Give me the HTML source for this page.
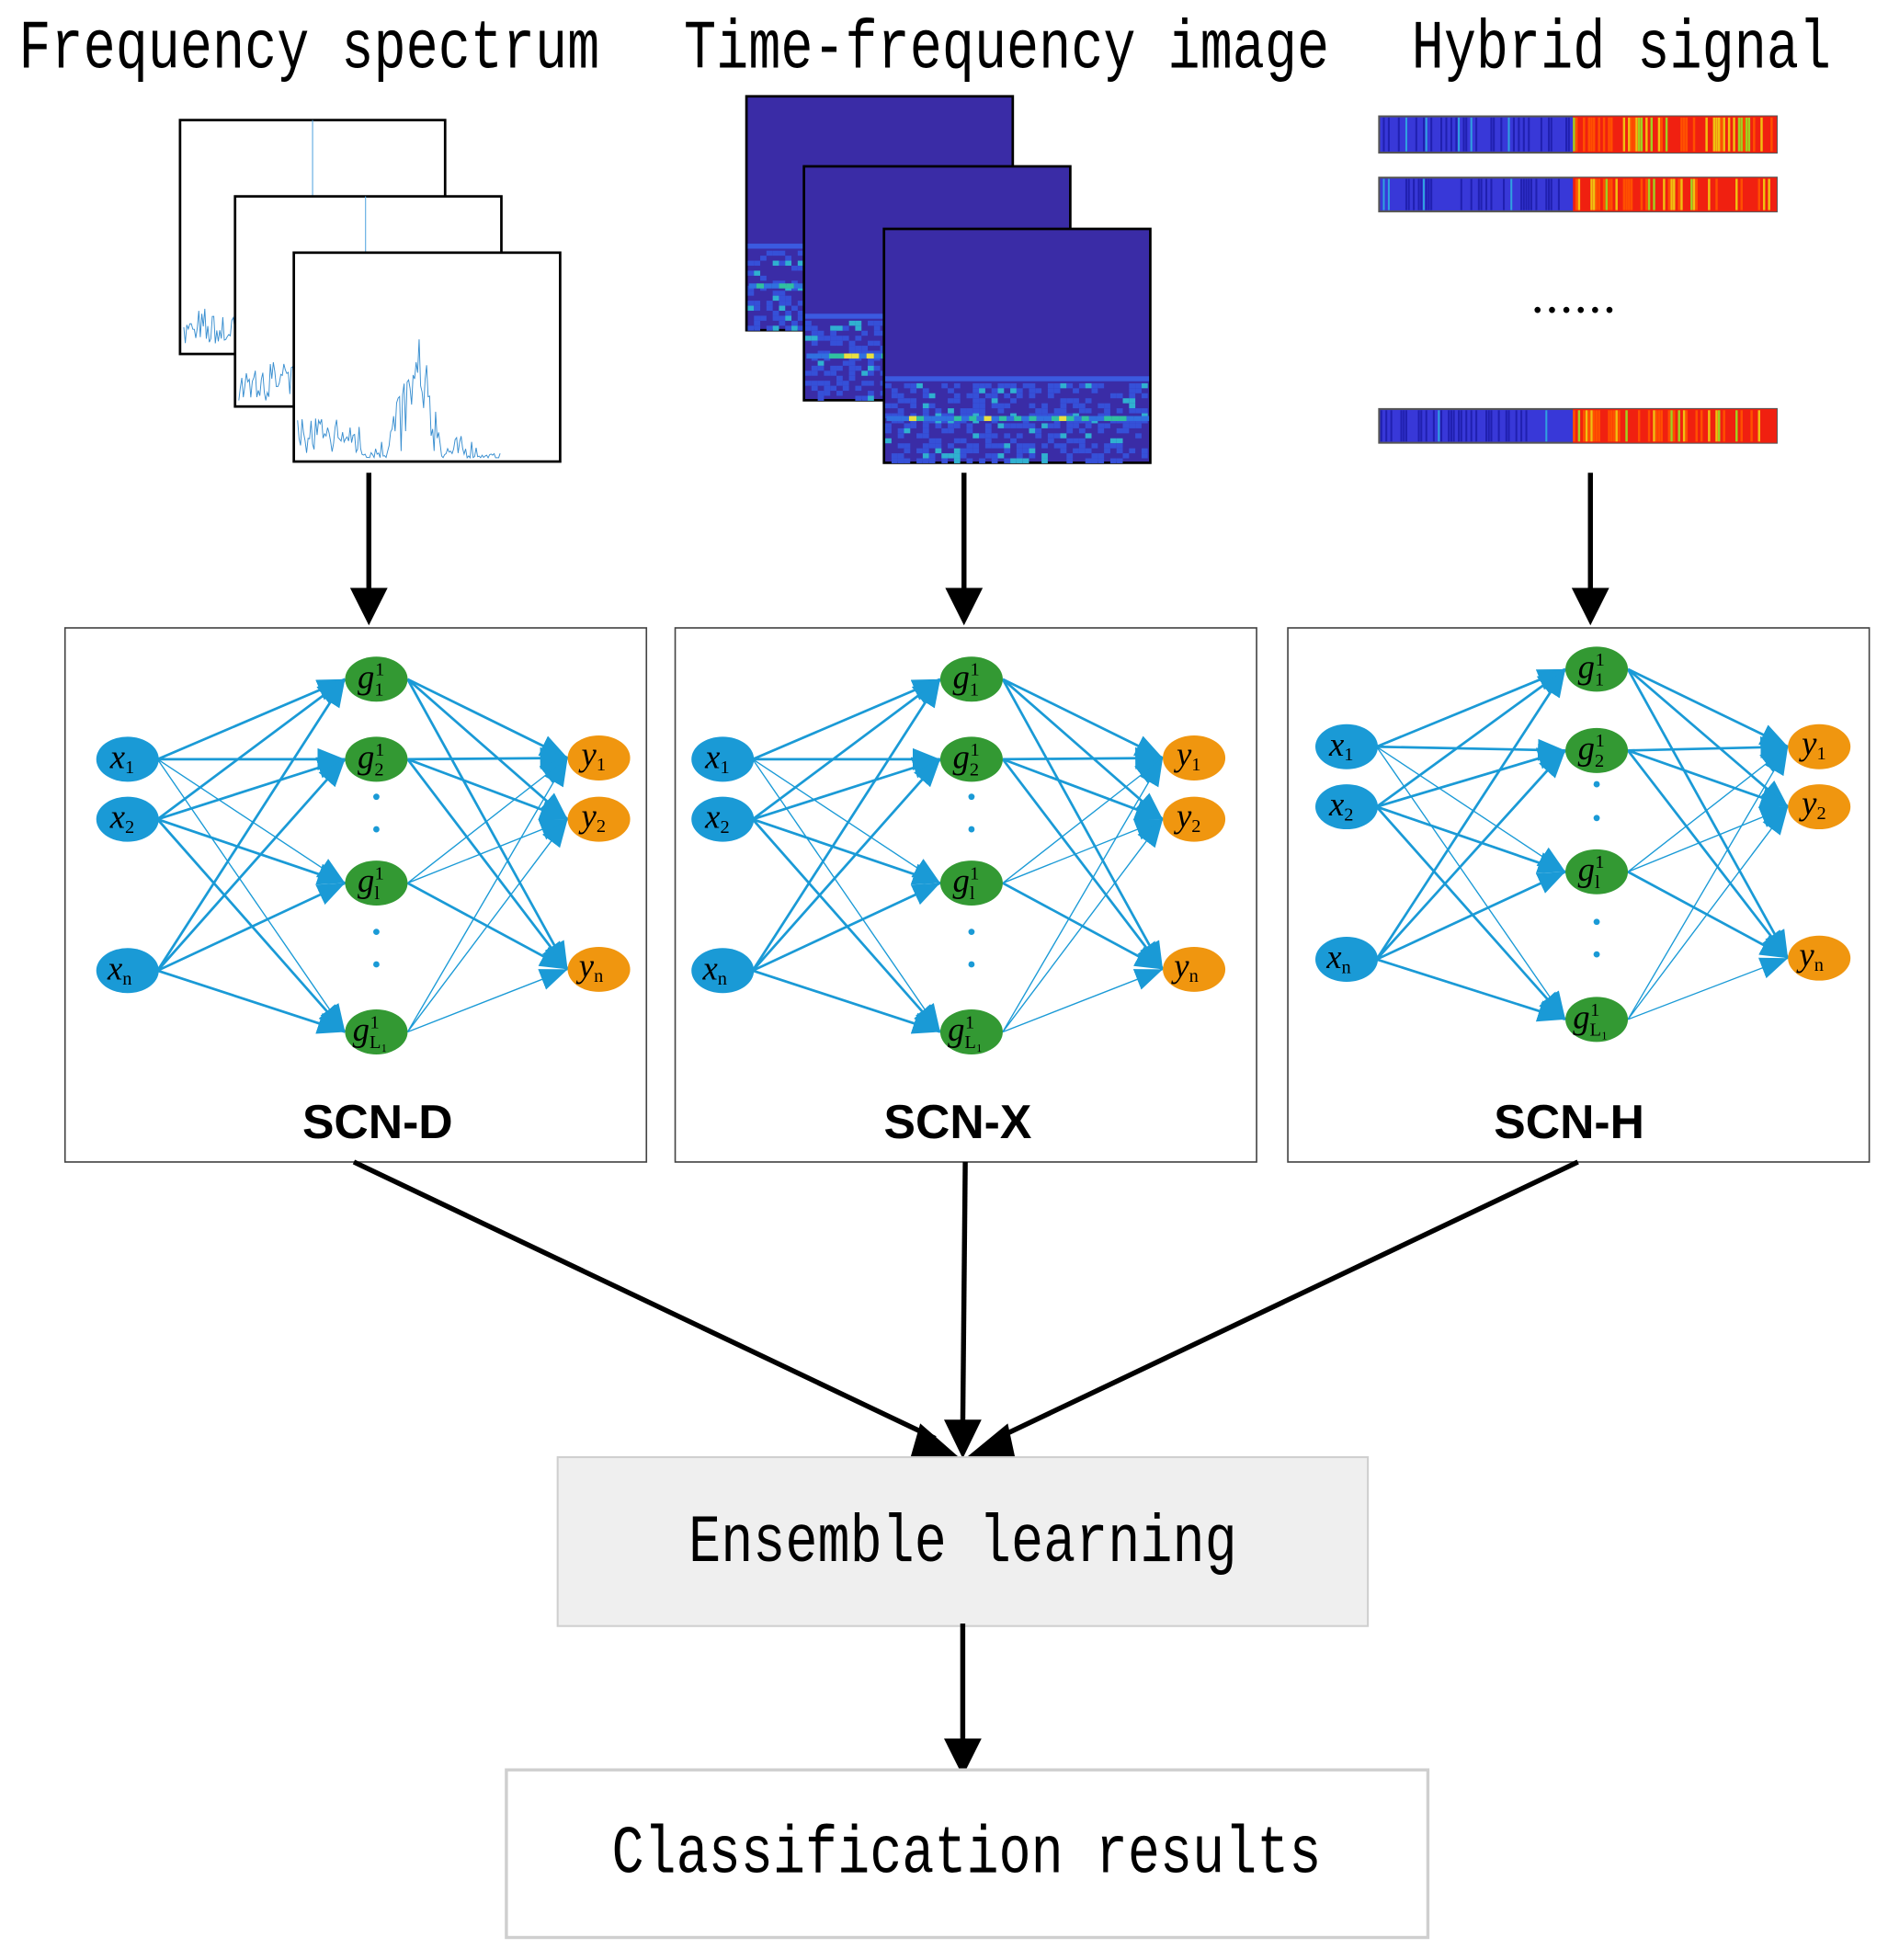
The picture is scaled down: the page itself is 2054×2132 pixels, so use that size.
<!DOCTYPE html>
<html><head><meta charset="utf-8"><style>
html,body{margin:0;padding:0;background:#fff}
svg{display:block}
.t{font-family:"Liberation Mono",monospace;font-size:43px;fill:#000}
.n{font-family:"Liberation Serif",serif;font-style:italic;font-size:27px;fill:#000}
.s{font-size:15px;font-style:normal}
.scn{font-family:"Liberation Sans",sans-serif;font-weight:bold;font-size:38px;fill:#000}
</style></head><body>
<svg id="sv" width="2054" height="2132" viewBox="0 0 1510 1567" preserveAspectRatio="none" xmlns="http://www.w3.org/2000/svg">
<defs>
<marker id="ac" viewBox="0 0 10 10" refX="10" refY="5" markerWidth="22" markerHeight="22" orient="auto" markerUnits="userSpaceOnUse"><path d="M0,1 L10,5 L0,9z" fill="#1a9ad6"/></marker>
</defs>
<g transform="translate(0,54) scale(1,1.28) translate(0,-54)">
<text class="t" x="15" y="54">Frequency spectrum</text>
<text class="t" x="547" y="54">Time-frequency image</text>
<text class="t" x="1129" y="54">Hybrid signal</text>
</g>
<g id="spec"></g>
<g id="tf"></g>
<g id="hyb"></g>
<text x="1226" y="250" font-family="Liberation Serif" font-size="30" font-weight="bold" letter-spacing="4">......</text>
<g stroke="#000" stroke-width="4">
<line x1="295" y1="378" x2="295" y2="470"/><line x1="771" y1="378" x2="771" y2="470"/><line x1="1272" y1="378" x2="1272" y2="470"/>
</g>
<g fill="#000">
<path d="M280,470 L310,470 L295,500z"/><path d="M756,470 L786,470 L771,500z"/><path d="M1257,470 L1287,470 L1272,500z"/>
</g>
<g fill="#fff" stroke="#444" stroke-width="1.2">
<rect x="52" y="502" width="465" height="427"/><rect x="540" y="502" width="465" height="427"/><rect x="1030" y="502" width="465" height="427"/>
</g>
<g id="nets"></g>
<text class="scn" x="302" y="910" text-anchor="middle">SCN-D</text>
<text class="scn" x="766" y="910" text-anchor="middle">SCN-X</text>
<text class="scn" x="1255" y="910" text-anchor="middle">SCN-H</text>
<g stroke="#000" stroke-width="4">
<line x1="283" y1="929" x2="748" y2="1150"/><line x1="772" y1="929" x2="770" y2="1140"/><line x1="1262" y1="929" x2="797" y2="1150"/>
</g>
<g fill="#000">
<path d="M736,1138 L768,1166 L728,1166z"/><path d="M755,1135 L785,1135 L770,1166z"/><path d="M806,1138 L772,1166 L812,1166z" />
</g>
<rect x="446" y="1165" width="648" height="135" fill="#efefef" stroke="#cfcfcf" stroke-width="1.5"/>
<text class="t" x="770" y="1248" text-anchor="middle" transform="translate(0,1248) scale(1,1.25) translate(0,-1248)">Ensemble learning</text>
<line x1="770" y1="1298" x2="770" y2="1392" stroke="#000" stroke-width="4"/>
<path d="M755,1390 L785,1390 L770,1420z" fill="#000"/>
<rect x="405" y="1415" width="737" height="134" fill="#fff" stroke="#cfcfcf" stroke-width="2.5"/>
<text class="t" x="773" y="1497" text-anchor="middle" transform="translate(0,1497) scale(1,1.25) translate(0,-1497)">Classification results</text>
</svg>
<script>
var NS="http://www.w3.org/2000/svg";
function el(t,a,p){var e=document.createElementNS(NS,t);for(var k in a)e.setAttribute(k,a[k]);(p||document.getElementById('sv')).appendChild(e);return e;}
var seed=7;function rnd(){seed=(seed*16807)%2147483647;return seed/2147483647;}
var sp=document.getElementById('spec');
[[144,96,356,283],[188,157,401,325],[235,202,448,369]].forEach(function(f,i){
 el('rect',{x:f[0],y:f[1],width:f[2]-f[0],height:f[3]-f[1],fill:'#fff',stroke:'#000','stroke-width':2},sp);
 var pts=[],w=f[2]-f[0],h=f[3]-f[1];
 for(var x=3;x<w*0.78;x+=1.2){var base=f[3]-3;var r=rnd();var amp=r*r*18;
  var c=x/w; if(c>0.35&&c<0.55)amp+=rnd()*h*0.6*(1-Math.abs(c-0.46)/0.12); if(c<0.25)amp+=rnd()*20;
  if(c>0.7)amp*=0.2; pts.push((f[0]+x).toFixed(1)+','+(base-amp).toFixed(1));}
 el('polyline',{points:pts.join(' '),fill:'none',stroke:'#3a8fd0','stroke-width':0.7},sp);
 if(i<2) el('line',{x1:f[0]+w*(i?0.49:0.5),y1:f[1],x2:f[0]+w*(i?0.49:0.5),y2:f[3]-40,stroke:'#5aa8e0','stroke-width':0.8},sp);
});
var tf=document.getElementById('tf');
[[597,77],[643,133],[707,183]].forEach(function(f,i){
 var w=213,h=187;
 el('rect',{x:f[0],y:f[1],width:w,height:h,fill:'#3a2ca6',stroke:'#000','stroke-width':2},tf);
 el('rect',{x:f[0]+1,y:f[1]+h*0.63,width:w-2,height:4,fill:'#3b5ae0'},tf);
 for(var y=f[1]+h*0.66;y<f[1]+h-2;y+=4)for(var x=f[0]+1;x<f[0]+w-2;x+=5){var r=rnd();
  if(r>0.55)el('rect',{x:x,y:y,width:5,height:4,fill:r>0.93?'#2fb0d0':'#3550d8'},tf);}
 var by=f[1]+h*0.8;
 for(var x=f[0]+2;x<f[0]+w-4;x+=6){var r=rnd();el('rect',{x:x,y:by,width:6,height:4,fill:r>0.85?'#e8e040':r>0.5?'#30c0a0':'#3070e0'},tf);}
});
var hb=document.getElementById('hyb');
[[93,29],[142,27],[327,27]].forEach(function(b){
 el('rect',{x:1103,y:b[0],width:318,height:b[1],fill:'#3838d8',stroke:'#555','stroke-width':1.5},hb);
 for(var x=1104;x<1258;x+=2){var r=rnd();if(r>0.6)el('rect',{x:x,y:b[0]+1,width:1.5,height:b[1]-2,fill:r>0.95?'#30a0e0':'#2020b0'},hb);}
 el('rect',{x:1258,y:b[0],width:163,height:b[1],fill:'#f02010'},hb);
 for(var x=1258;x<1420;x+=2){var r=rnd();if(r>0.5)el('rect',{x:x,y:b[0]+1,width:1.8,height:b[1]-2,fill:r>0.9?'#a0d020':r>0.75?'#f0c010':'#ff5000'},hb);}
});
var nets=document.getElementById('nets');
var NW=[
 {x:[[102,607],[102,655],[102,776]],g:[[301,543],[301,607],[301,706],[301,825]],y:[[479,606],[479,655],[479,775]],d:[637,663,745,771]},
 {x:[[578,607],[578,655],[578,776]],g:[[777,543],[777,607],[777,706],[777,825]],y:[[955,606],[955,655],[955,775]],d:[637,663,745,771]},
 {x:[[1077,597],[1077,645],[1077,767]],g:[[1277,535],[1277,600],[1277,697],[1277,815]],y:[[1455,597],[1455,645],[1455,766]],d:[627,654,737,763]}];
NW.forEach(function(n){
 n.x.forEach(function(a,i){n.g.forEach(function(b,j){el('line',{x1:a[0]+24,y1:a[1],x2:b[0]-25,y2:b[1],stroke:'#1a9ad6','stroke-width':(i==0&&j>=2)?1:2,'marker-end':'url(#ac)'},nets);});});
 n.g.forEach(function(a,i){n.y.forEach(function(b,j){el('line',{x1:a[0]+25,y1:a[1],x2:b[0]-25,y2:b[1],stroke:'#1a9ad6','stroke-width':(i>=2&&j<2)||(i==3)?1:2,'marker-end':'url(#ac)'},nets);});});
 n.x.forEach(function(a){el('ellipse',{cx:a[0],cy:a[1],rx:25,ry:18,fill:'#1a9ad6'},nets);});
 n.g.forEach(function(a){el('ellipse',{cx:a[0],cy:a[1],rx:25,ry:18,fill:'#339933'},nets);});
 n.y.forEach(function(a){el('ellipse',{cx:a[0],cy:a[1],rx:25,ry:18,fill:'#f0960f'},nets);});
 n.d.forEach(function(y){el('circle',{cx:n.g[0][0],cy:y,r:2.5,fill:'#1a9ad6'},nets);});
});
</script>
<svg width="2054" height="2132" viewBox="0 0 1510 1567" preserveAspectRatio="none" style="position:absolute;left:0;top:0" xmlns="http://www.w3.org/2000/svg">
<g class="n">
<text class="n" x="88" y="614">x<tspan class="s" dy="4">1</tspan></text>
<text class="n" x="88" y="662">x<tspan class="s" dy="4">2</tspan></text>
<text class="n" x="86" y="783">x<tspan class="s" dy="4">n</tspan></text>
<text class="n" x="286" y="550">g<tspan class="s" dy="6">1</tspan><tspan class="s" dx="-7" dy="-16">1</tspan></text>
<text class="n" x="286" y="614">g<tspan class="s" dy="6">2</tspan><tspan class="s" dx="-7" dy="-16">1</tspan></text>
<text class="n" x="286" y="713">g<tspan class="s" dy="6">l</tspan><tspan class="s" dx="-4" dy="-16">1</tspan></text>
<text class="n" x="282" y="832">g<tspan class="s" dy="6">L₁</tspan><tspan class="s" dx="-14" dy="-16">1</tspan></text>
<text class="n" x="465" y="612">y<tspan class="s" dy="4">1</tspan></text>
<text class="n" x="465" y="661">y<tspan class="s" dy="4">2</tspan></text>
<text class="n" x="463" y="781">y<tspan class="s" dy="4">n</tspan></text>

<text class="n" x="564" y="614">x<tspan class="s" dy="4">1</tspan></text>
<text class="n" x="564" y="662">x<tspan class="s" dy="4">2</tspan></text>
<text class="n" x="562" y="783">x<tspan class="s" dy="4">n</tspan></text>
<text class="n" x="762" y="550">g<tspan class="s" dy="6">1</tspan><tspan class="s" dx="-7" dy="-16">1</tspan></text>
<text class="n" x="762" y="614">g<tspan class="s" dy="6">2</tspan><tspan class="s" dx="-7" dy="-16">1</tspan></text>
<text class="n" x="762" y="713">g<tspan class="s" dy="6">l</tspan><tspan class="s" dx="-4" dy="-16">1</tspan></text>
<text class="n" x="758" y="832">g<tspan class="s" dy="6">L₁</tspan><tspan class="s" dx="-14" dy="-16">1</tspan></text>
<text class="n" x="941" y="612">y<tspan class="s" dy="4">1</tspan></text>
<text class="n" x="941" y="661">y<tspan class="s" dy="4">2</tspan></text>
<text class="n" x="939" y="781">y<tspan class="s" dy="4">n</tspan></text>

<text class="n" x="1063" y="604">x<tspan class="s" dy="4">1</tspan></text>
<text class="n" x="1063" y="652">x<tspan class="s" dy="4">2</tspan></text>
<text class="n" x="1061" y="774">x<tspan class="s" dy="4">n</tspan></text>
<text class="n" x="1262" y="542">g<tspan class="s" dy="6">1</tspan><tspan class="s" dx="-7" dy="-16">1</tspan></text>
<text class="n" x="1262" y="607">g<tspan class="s" dy="6">2</tspan><tspan class="s" dx="-7" dy="-16">1</tspan></text>
<text class="n" x="1262" y="704">g<tspan class="s" dy="6">l</tspan><tspan class="s" dx="-4" dy="-16">1</tspan></text>
<text class="n" x="1258" y="822">g<tspan class="s" dy="6">L₁</tspan><tspan class="s" dx="-14" dy="-16">1</tspan></text>
<text class="n" x="1441" y="603">y<tspan class="s" dy="4">1</tspan></text>
<text class="n" x="1441" y="651">y<tspan class="s" dy="4">2</tspan></text>
<text class="n" x="1439" y="772">y<tspan class="s" dy="4">n</tspan></text>
</g>
</svg>
</body></html>
